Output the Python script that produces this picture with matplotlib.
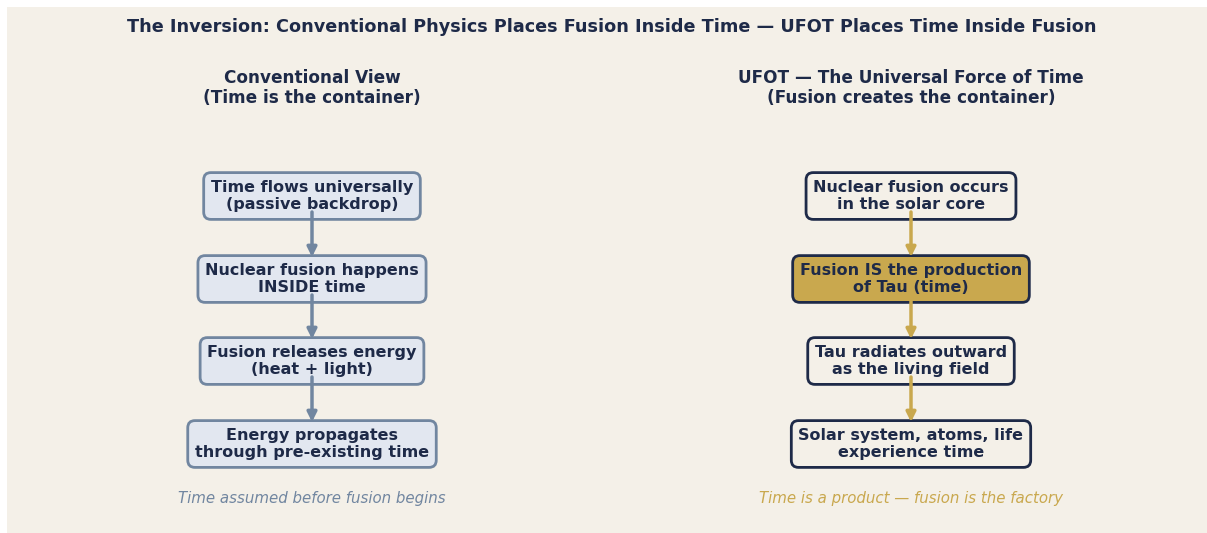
import matplotlib.pyplot as plt
from matplotlib.patches import Rectangle

plt.rcParams['font.family'] = ['DejaVu Sans']

# chart content
title = 'The Inversion: Conventional Physics Places Fusion Inside Time \u2014 UFOT Places Time Inside Fusion'
left_head = 'Conventional View\n(Time is the container)'
right_head = 'UFOT \u2014 The Universal Force of Time\n(Fusion creates the container)'
left_steps = ['Time flows universally\n(passive backdrop)',
              'Nuclear fusion happens\nINSIDE time',
              'Fusion releases energy\n(heat + light)',
              'Energy propagates\nthrough pre-existing time']
right_steps = ['Nuclear fusion occurs\nin the solar core',
               'Fusion IS the production\nof Tau (time)',
               'Tau radiates outward\nas the living field',
               'Solar system, atoms, life\nexperience time']
right_highlight = [False, True, False, False]
left_note = 'Time assumed before fusion begins'
right_note = 'Time is a product \u2014 fusion is the factory'

navy = '#1e2a48'
slate = '#7186a0'
pale = '#e2e7f0'
gold = '#c9a84e'
bg = '#f4f0e8'

fig = plt.figure(figsize=(12.07, 5.33), dpi=100)
fig.patch.set_facecolor('white')
ax = fig.add_axes([0, 0, 1, 1])
ax.set_xlim(0, 1207)
ax.set_ylim(533, 0)
ax.axis('off')
ax.add_patch(Rectangle((7, 7), 1200, 526, facecolor=bg, edgecolor='none', zorder=0))

ax.text(612, 27, title, ha='center', va='center', fontsize=12.7, fontweight='bold', color=navy)

cols = [312, 911]
ys = [196, 279, 361, 444]

ax.text(cols[0], 88, left_head, ha='center', va='center', fontsize=12.2,
        fontweight='bold', color=navy, linespacing=1.15)
ax.text(cols[1], 88, right_head, ha='center', va='center', fontsize=12.2,
        fontweight='bold', color=navy, linespacing=1.15)

for i, s in enumerate(left_steps):
    ax.text(cols[0], ys[i], s, ha='center', va='center', fontsize=11.5, fontweight='bold',
            color=navy, linespacing=1.2, zorder=3,
            bbox=dict(boxstyle='round,pad=0.45', fc=pale, ec=slate, lw=2))
for i, s in enumerate(right_steps):
    fc = gold if right_highlight[i] else bg
    ax.text(cols[1], ys[i], s, ha='center', va='center', fontsize=11.5, fontweight='bold',
            color=navy, linespacing=1.2, zorder=3,
            bbox=dict(boxstyle='round,pad=0.45', fc=fc, ec=navy, lw=2))

for c, col in zip(cols, [slate, gold]):
    for i in range(len(ys) - 1):
        ax.annotate('', xy=(c, ys[i + 1] - 22), xytext=(c, ys[i] + 16),
                    arrowprops=dict(arrowstyle='-|>', color=col, lw=2.5,
                                    mutation_scale=14, shrinkA=0, shrinkB=0), zorder=4)

ax.text(cols[0], 498, left_note, ha='center', va='center', fontsize=10.8,
        style='italic', color=slate)
ax.text(cols[1], 498, right_note, ha='center', va='center', fontsize=10.8,
        style='italic', color=gold)

fig.savefig('out.png', dpi=100, facecolor=fig.get_facecolor())
